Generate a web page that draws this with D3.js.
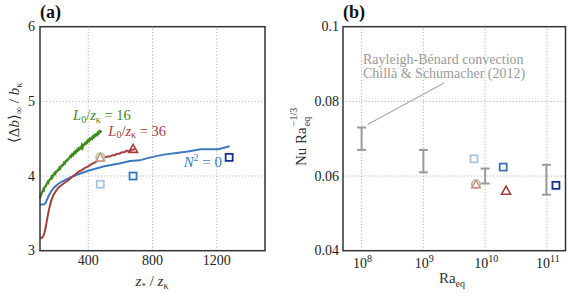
<!DOCTYPE html>
<html><head><meta charset="utf-8">
<script src="https://cdn.jsdelivr.net/npm/d3@7"></script>
<style>
body{margin:0;background:#fff}
</style></head>
<body><svg id="c" width="568" height="298" font-family="'Liberation Serif', 'Times New Roman', 'DejaVu Serif', serif"></svg>
<script>
// ---------- DATA ----------
// panel (a)
const aXTicks = [400, 800, 1200];
const aYTicks = [3, 4, 5, 6];
const greenCurve = [[100,3.70],[104,3.74],[108,3.75],[112,3.78],[116,3.79],[120,3.82],[124,3.81],[128,3.85],[132,3.86],[136,3.86],[140,3.89],[144,3.90],[148,3.92],[152,3.91],[156,3.94],[160,3.95],[164,3.96],[168,3.96],[172,3.99],[176,3.98],[180,4.01],[185,4.01],[190,4.04],[195,4.03],[200,4.06],[205,4.06],[210,4.08],[215,4.08],[220,4.11],[225,4.10],[230,4.13],[235,4.13],[240,4.15],[245,4.15],[250,4.18],[255,4.17],[260,4.20],[265,4.20],[270,4.22],[275,4.22],[280,4.24],[285,4.25],[290,4.27],[295,4.26],[300,4.29],[305,4.28],[310,4.31],[315,4.30],[320,4.33],[325,4.32],[330,4.35],[335,4.34],[340,4.37],[345,4.36],[350,4.38],[355,4.37],[360,4.41],[365,4.38],[370,4.42],[375,4.42],[380,4.44],[385,4.43],[390,4.46],[395,4.45],[400,4.48],[405,4.47],[410,4.50],[415,4.49],[420,4.51],[425,4.50],[430,4.53],[435,4.52],[440,4.55],[445,4.54],[450,4.56],[455,4.55],[460,4.58],[465,4.57],[470,4.60],[475,4.59],[482,4.61]];
const redCurve = [[100,3.18],[110,3.17],[120,3.19],[128,3.24],[136,3.32],[144,3.42],[152,3.51],[160,3.59],[170,3.67],[182,3.74],[196,3.79],[212,3.84],[235,3.88],[260,3.92],[280,3.95],[300,3.99],[320,4.02],[340,4.06],[360,4.08],[380,4.11],[400,4.13],[420,4.16],[440,4.18],[460,4.21],[490,4.24],[520,4.26],[535,4.26],[550,4.28],[565,4.28],[580,4.30],[595,4.30],[610,4.32],[625,4.32],[640,4.34],[655,4.33],[670,4.35],[690,4.36]];
const blueCurve = [[100,3.62],[112,3.62],[125,3.62],[135,3.64],[145,3.69],[155,3.74],[168,3.79],[185,3.84],[210,3.89],[240,3.93],[280,3.97],[320,4.01],[400,4.07],[500,4.13],[600,4.17],[660,4.20],[720,4.21],[770,4.24],[830,4.27],[880,4.29],[950,4.31],[1020,4.33],[1100,4.36],[1160,4.36],[1210,4.36],[1245,4.38],[1280,4.40]];
// panel (b)
const bXTicks = [1e8, 1e9, 1e10, 1e11];
const bXExp = ["8", "9", "10", "11"];
const bYTicks = [0.04, 0.06, 0.08, 0.1];
const bYLabels = ["0.04", "0.06", "0.08", "0.1"];
const rbRa = [1e8, 1e9, 1e10, 0.98e11];
const rbLow = [0.067, 0.061, 0.058, 0.055];
const rbHigh = [0.073, 0.067, 0.062, 0.063];
// simulation symbols (same runs in both panels)
const symKind = ["sqLight", "sqMid", "sqDark", "circTri", "tri"];
const symZ = [475, 679, 1277, 475, 679];
const symB = [3.89, 4.00, 4.25, 4.25, 4.36];
const symRa = [6.6e9, 1.96e10, 1.4e11, 7.1e9, 2.18e10];
const symNu = [0.0646, 0.0624, 0.0575, 0.0578, 0.0560];

// ---------- DRAW ----------
const svg = d3.select("#c");
const C = {green:"#3f8a1f", red:"#a3403f", blue:"#3e78bf", light:"#a9c4e4", mid:"#3d72b8", dark:"#15338a", grid:"#b3b3b3", rb:"#9a9a9a"};

const aX = d3.scaleLinear().domain([100,1500]).range([40,265]);
const aY = d3.scaleLinear().domain([3,6]).range([250.7,26.7]);
const bX = d3.scaleLog().domain([5e7,2e11]).range([343,565.5]);
const bY = d3.scaleLinear().domain([0.04,0.1]).range([250.7,26.7]);

function grid(g, xs, ys, X, Y){
  g.selectAll(null).data(xs).enter().append("line")
    .attr("x1",d=>X(d)).attr("x2",d=>X(d)).attr("y1",Y.range()[0]).attr("y2",Y.range()[1])
    .attr("stroke",C.grid).attr("stroke-dasharray","1.2,2").attr("stroke-width",1);
  g.selectAll(null).data(ys).enter().append("line")
    .attr("y1",d=>Y(d)).attr("y2",d=>Y(d)).attr("x1",X.range()[0]).attr("x2",X.range()[1])
    .attr("stroke",C.grid).attr("stroke-dasharray","1.2,2").attr("stroke-width",1);
}
function frame(X,Y){
  svg.append("rect").attr("x",X.range()[0]).attr("y",Y.range()[1])
    .attr("width",X.range()[1]-X.range()[0]).attr("height",Y.range()[0]-Y.range()[1])
    .attr("fill","none").attr("stroke","#333").attr("stroke-width",1.5);
}
function square(g,x,y,col,s){
  g.append("rect").attr("x",x-s/2).attr("y",y-s/2).attr("width",s).attr("height",s)
    .attr("fill","#fff").attr("stroke",col).attr("stroke-width",1.8);
}
function tri(g,x,y,col,s){
  const h=s*0.9;
  g.append("path").attr("d",`M${x},${y-h*0.6}L${x+s/2},${y+h*0.4}L${x-s/2},${y+h*0.4}Z`)
    .attr("fill","none").attr("stroke",col).attr("stroke-width",1.6);
}
function drawSym(g,kind,x,y){
  if(kind==="sqLight") square(g,x,y,C.light,7);
  if(kind==="sqMid") square(g,x,y,C.mid,7);
  if(kind==="sqDark") square(g,x,y,C.dark,7);
  if(kind==="circTri"){
    g.append("circle").attr("cx",x).attr("cy",y).attr("r",4.2).attr("fill","#fff").attr("stroke","#9fcf8a").attr("stroke-width",1.6);
    tri(g,x,y+0.5,"#d18f8f",8.5);
  }
  if(kind==="tri") tri(g,x,y,C.red,9);
}

// ===== panel (a) =====
const ga = svg.append("g");
grid(ga, aXTicks, [4,5], aX, aY);
const line = d3.line().x(d=>aX(d[0])).y(d=>aY(d[1]));
ga.append("path").datum(blueCurve).attr("d",line).attr("fill","none").attr("stroke",C.blue).attr("stroke-width",2);
ga.append("path").datum(redCurve).attr("d",line).attr("fill","none").attr("stroke",C.red).attr("stroke-width",2);
ga.append("path").datum(greenCurve).attr("d",line).attr("fill","none").attr("stroke",C.green).attr("stroke-width",2.2);
symKind.forEach((k,i)=>drawSym(ga,k,aX(symZ[i]),aY(symB[i])));
frame(aX,aY);

ga.selectAll(null).data(aYTicks).enter().append("text")
  .attr("x",35).attr("y",d=>aY(d)+4.5).attr("text-anchor","end").attr("font-size",14).attr("fill","#222").text(d=>d);
ga.selectAll(null).data(aXTicks).enter().append("text")
  .attr("x",d=>aX(d)).attr("y",265).attr("text-anchor","middle").attr("font-size",14).attr("fill","#222").text(d=>d);

// curve labels
function lLabel(x,y,col,val){
  const t = svg.append("text").attr("x",x).attr("y",y).attr("font-size",14.5).attr("fill",col);
  t.append("tspan").attr("font-style","italic").text("L");
  t.append("tspan").attr("font-size",10).attr("dy",2.5).text("0");
  t.append("tspan").attr("dy",-2.5).text("/");
  t.append("tspan").attr("font-style","italic").text("z");
  t.append("tspan").attr("font-size",10).attr("dy",2.5).text("κ");
  t.append("tspan").attr("dy",-2.5).text(" = "+val);
}
lLabel(aX(306),aY(4.75),C.green,"16");
lLabel(aX(525),aY(4.54),C.red,"36");
{
  const t = svg.append("text").attr("x",aX(994)).attr("y",aY(4.12)).attr("font-size",15).attr("fill",C.blue);
  t.append("tspan").attr("font-style","italic").text("N");
  t.append("tspan").attr("font-size",9.5).attr("dy",-6).text("2");
  t.append("tspan").attr("dy",6).text(" = 0");
}
// axis labels (a)
{
  const t = svg.append("text").attr("x",152).attr("y",286).attr("text-anchor","middle").attr("font-size",15).attr("fill","#333");
  t.append("tspan").attr("font-style","italic").text("z");
  t.append("tspan").attr("font-size",9).attr("dy",3).text("*");
  t.append("tspan").attr("dy",-3).text(" / ");
  t.append("tspan").attr("font-style","italic").text("z");
  t.append("tspan").attr("font-size",10).attr("dy",3).text("κ");
}
{
  const t = svg.append("text").attr("transform","translate(19,143) rotate(-90)").attr("font-size",15).attr("fill","#333");
  t.append("tspan").text("⟨Δ");
  t.append("tspan").attr("font-style","italic").text("b");
  t.append("tspan").text("⟩");
  t.append("tspan").attr("font-size",10).attr("dy",3).text("∞");
  t.append("tspan").attr("dy",-3).text(" / ");
  t.append("tspan").attr("font-style","italic").text("b");
  t.append("tspan").attr("font-size",10).attr("dy",3).text("κ");
}
svg.append("text").attr("x",40).attr("y",18).attr("font-size",18).attr("font-weight","bold").attr("fill","#111").text("(a)");

// ===== panel (b) =====
const gb = svg.append("g");
grid(gb, bXTicks, [0.06,0.08], bX, bY);
// annotation
gb.append("line").attr("x1",444).attr("y1",83).attr("x2",bX(rbRa[0])+6).attr("y2",bY(rbHigh[0])-3)
  .attr("stroke","#a8a8a8").attr("stroke-width",1.2);
gb.append("text").attr("x",363).attr("y",64).attr("font-size",14).attr("fill","#9a9a9a").text("Rayleigh-Bénard convection");
gb.append("text").attr("x",363).attr("y",77.5).attr("font-size",14).attr("fill","#9a9a9a").text("Chillà & Schumacher (2012)");
// error bars
rbRa.forEach((r,i)=>{
  const x=bX(r), y1=bY(rbLow[i]), y2=bY(rbHigh[i]);
  gb.append("line").attr("x1",x).attr("x2",x).attr("y1",y1).attr("y2",y2).attr("stroke",C.rb).attr("stroke-width",2);
  [y1,y2].forEach(y=>gb.append("line").attr("x1",x-4.5).attr("x2",x+4.5).attr("y1",y).attr("y2",y).attr("stroke",C.rb).attr("stroke-width",2));
});
symKind.forEach((k,i)=>drawSym(gb,k,bX(symRa[i]),bY(symNu[i])));
frame(bX,bY);

gb.selectAll(null).data(bYTicks).enter().append("text")
  .attr("x",339).attr("y",d=>bY(d)+4.5).attr("text-anchor","end").attr("font-size",14).attr("fill","#222").text((d,i)=>bYLabels[i]);
bXTicks.forEach((d,i)=>{
  const t = gb.append("text").attr("x",bX(d)+1).attr("y",268).attr("text-anchor","middle").attr("font-size",14).attr("fill","#222");
  t.append("tspan").text("10");
  t.append("tspan").attr("font-size",10).attr("dy",-6).text(bXExp[i]);
});
{
  const t = svg.append("text").attr("x",452).attr("y",283).attr("text-anchor","middle").attr("font-size",15).attr("fill","#333");
  t.append("tspan").text("Ra");
  t.append("tspan").attr("font-size",10).attr("dy",4).text("eq");
}
{
  const g = svg.append("g").attr("transform","translate(306,166) rotate(-90)");
  const t = g.append("text").attr("font-size",15).attr("fill","#333").text("Nu Ra");
  const w = t.node().getComputedTextLength();
  g.append("text").attr("x",w+1).attr("y",4).attr("font-size",10).attr("fill","#333").text("eq");
  g.append("text").attr("x",w+1).attr("y",-9).attr("font-size",10).attr("fill","#333").text("−1/3");
}
svg.append("text").attr("x",343).attr("y",18).attr("font-size",18).attr("font-weight","bold").attr("fill","#111").text("(b)");
</script></body></html>
